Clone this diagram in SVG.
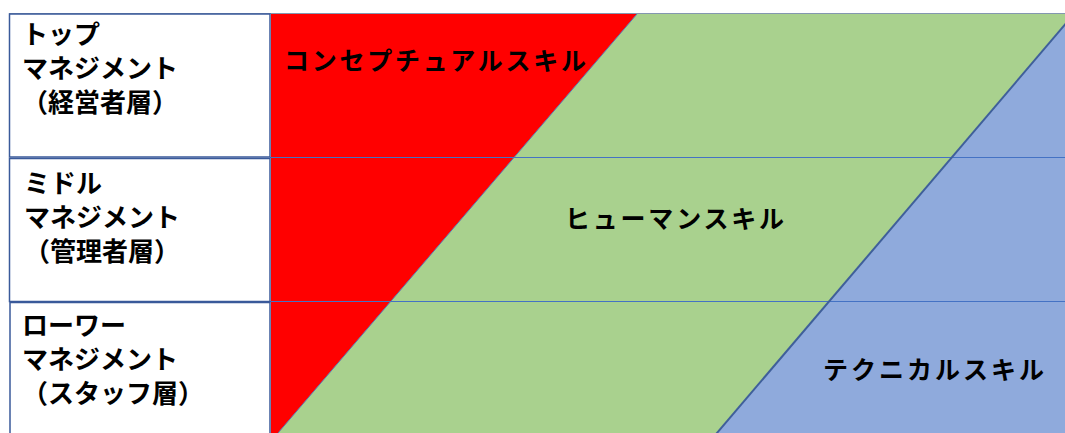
<svg xmlns="http://www.w3.org/2000/svg" width="1065" height="433" viewBox="0 0 1065 433">
  <style>
    .lbl { font-family: "Noto Sans CJK JP", "Noto Sans", sans-serif; font-weight: bold; font-size: 26px; fill: #000000; }
    .skill { font-family: "Noto Sans CJK JP", "Noto Sans", sans-serif; font-weight: bold; font-size: 25px; fill: #000000; }
    .cell { fill: #FFFFFF; stroke: #3A5A9A; stroke-width: 1.5; }
    .grid { stroke: #4472C4; stroke-width: 1; fill: none; }
  </style>
  <rect x="0" y="0" width="1065" height="433" fill="#FFFFFF"/>

  <g id="skill-bands">
    <g id="technical">
      <polygon points="1074,14 1100,14 1100,440 711,440" fill="#8FAADC"/>
    </g>
    <g id="human">
      <polygon points="637,14 1074,14 711,440 272,440" fill="#A9D18E"/>
    </g>
    <g id="conceptual">
      <polygon points="271,14 637,14 272,440 271,440" fill="#FF0000"/>
    </g>
  </g>

  <g id="connectors">
    <line class="grid" x1="270" y1="157.5" x2="1065" y2="157.5"/>
    <line class="grid" x1="270" y1="301.5" x2="1065" y2="301.5"/>
    <line x1="9" y1="13.5" x2="1065" y2="13.5" stroke="#8497B0" stroke-width="1.2"/>
    <line x1="637" y1="14" x2="272" y2="440" stroke="#5878B0" stroke-width="1"/>
    <line x1="1074" y1="14" x2="711" y2="440" stroke="#3F5F9A" stroke-width="2"/>
  </g>

  <g id="top-management">
    <rect class="cell" x="9.5" y="14" width="260.5" height="143"/>
    <text class="lbl" x="22" y="44">トップ<tspan x="22" dy="34">マネジメント</tspan><tspan x="22" dy="34">（経営者層）</tspan></text>
  </g>
  <g id="middle-management">
    <rect class="cell" x="9.5" y="158.5" width="260.5" height="143"/>
    <text class="lbl" x="24" y="193">ミドル<tspan x="24" dy="34">マネジメント</tspan><tspan x="24" dy="34">（管理者層）</tspan></text>
  </g>
  <g id="lower-management">
    <rect class="cell" x="10" y="302.5" width="260" height="140"/>
    <text class="lbl" x="22" y="335">ローワー<tspan x="22" dy="34">マネジメント</tspan><tspan x="22" dy="34">（スタッフ層）</tspan></text>
  </g>

  <g id="skill-labels">
    <text class="skill" x="284" y="70" textLength="302" lengthAdjust="spacing">コンセプチュアルスキル</text>
    <text class="skill" x="565" y="228" textLength="219" lengthAdjust="spacing">ヒューマンスキル</text>
    <text class="skill" x="823" y="379" textLength="221" lengthAdjust="spacing">テクニカルスキル</text>
  </g>
</svg>
